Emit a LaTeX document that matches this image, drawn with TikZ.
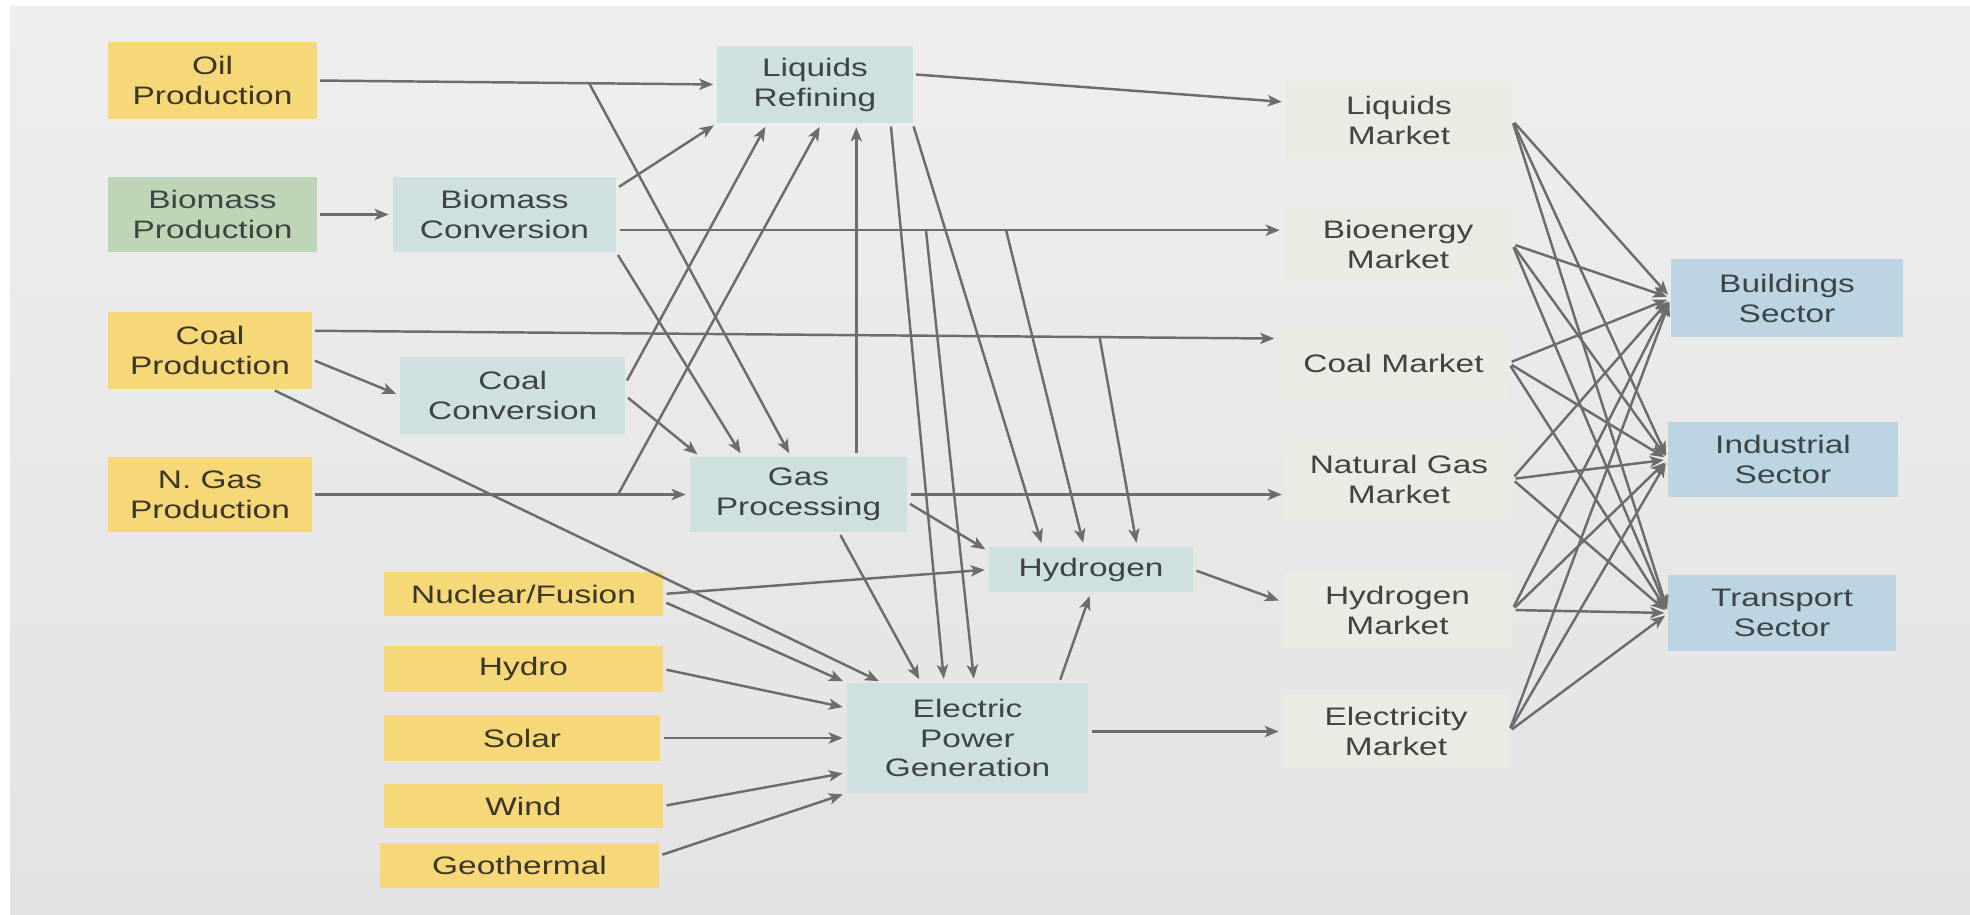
\documentclass[tikz,border=0pt]{standalone}
\usepackage{fontspec}
\setmainfont{Liberation Sans}[FakeStretch=1.32]
\usetikzlibrary{arrows.meta,calc}

\definecolor{srcyellow}{HTML}{F6D878}
\definecolor{biogreen}{HTML}{BED6B6}
\definecolor{procteal}{HTML}{CFE0E0}
\definecolor{mktbeige}{HTML}{EBEBE3}
\definecolor{sectblue}{HTML}{BCD5E2}
\definecolor{srctext}{HTML}{3A3628}
\definecolor{boxtext}{HTML}{3E4444}
\definecolor{flowgray}{HTML}{6C6C6C}
\definecolor{bgtop}{HTML}{EEEEEE}
\definecolor{bgbot}{HTML}{E3E3E3}

\begin{document}
\begin{tikzpicture}[x=0.01cm,y=-0.01cm,
  box/.style={rectangle,inner sep=0pt,outer sep=0pt,align=center,
    font=\fontsize{7.2}{8.5}\selectfont},
  srcbox/.style={box,fill=srcyellow,text=srctext},
  bioprod/.style={box,fill=biogreen,text=boxtext},
  procbox/.style={box,fill=procteal,text=boxtext},
  mktbox/.style={box,fill=mktbeige,text=boxtext},
  sectbox/.style={box,fill=sectblue,text=boxtext},
  flow/.style={draw=flowgray,line width=0.7pt,
    -{Stealth[length=4pt,width=3.2pt,inset=1pt]},shorten >=1.2pt,shorten <=1pt},
  tap/.style={flow,shorten <=0pt}]

% page and background
\fill[white] (0,0) rectangle (1970,914);
\useasboundingbox (0,0) rectangle (1970,914);
\shade[top color=bgtop,bottom color=bgbot] (10,6) rectangle (1970,914);

% primary sources
\node[srcbox,minimum width=2.08cm,minimum height=0.77cm] (oil) at (212.5,80.5) {Oil\\Production};
\node[bioprod,minimum width=2.08cm,minimum height=0.75cm] (biop) at (212.5,214.5) {Biomass\\Production};
\node[srcbox,minimum width=2.03cm,minimum height=0.77cm] (coalp) at (210,350.5) {Coal\\Production};
\node[srcbox,minimum width=2.03cm,minimum height=0.75cm] (ngasp) at (210,494.5) {N. Gas\\Production};
\node[srcbox,minimum width=2.79cm,minimum height=0.44cm] (nuc) at (523.5,594) {Nuclear/Fusion};
\node[srcbox,minimum width=2.79cm,minimum height=0.46cm] (hydro) at (523.5,669) {Hydro};
\node[srcbox,minimum width=2.76cm,minimum height=0.46cm] (solar) at (522,738) {Solar};
\node[srcbox,minimum width=2.79cm,minimum height=0.44cm] (wind) at (523.5,806) {Wind};
\node[srcbox,minimum width=2.79cm,minimum height=0.45cm] (geo) at (519.5,865.5) {Geothermal};

% conversion steps
\node[procbox,minimum width=2.23cm,minimum height=0.75cm] (bioconv) at (504.5,214.5) {Biomass\\Conversion};
\node[procbox,minimum width=2.25cm,minimum height=0.77cm] (coalconv) at (512.7,395.5) {Coal\\Conversion};
\node[procbox,minimum width=1.95cm,minimum height=0.77cm] (refin) at (815,84.5) {Liquids\\Refining};
\node[procbox,minimum width=2.17cm,minimum height=0.75cm] (gasp) at (798.5,494.5) {Gas\\Processing};
\node[procbox,minimum width=2.04cm,minimum height=0.45cm] (hydrog) at (1091,569.5) {Hydrogen};
\node[procbox,minimum width=2.41cm,minimum height=1.10cm] (epg) at (967.5,738) {Electric\\Power\\Generation};

% markets
\node[mktbox,minimum width=2.26cm,minimum height=0.76cm] (liqmkt) at (1399,120) {Liquids\\Market};
\node[mktbox,minimum width=2.28cm,minimum height=0.78cm] (biomkt) at (1398,244) {Bioenergy\\Market};
\node[mktbox,minimum width=2.30cm,minimum height=0.74cm] (coalmkt) at (1393.5,363) {Coal Market};
\node[mktbox,minimum width=2.26cm,minimum height=0.78cm] (ngmkt) at (1399,479) {Natural Gas\\Market};
\node[mktbox,minimum width=2.29cm,minimum height=0.76cm] (h2mkt) at (1397.5,610) {Hydrogen\\Market};
\node[mktbox,minimum width=2.26cm,minimum height=0.73cm] (elmkt) at (1396,731.5) {Electricity\\Market};

% end-use sectors
\node[sectbox,minimum width=2.32cm,minimum height=0.78cm] (build) at (1787,298) {Buildings\\Sector};
\node[sectbox,minimum width=2.30cm,minimum height=0.75cm] (indus) at (1783,459.5) {Industrial\\Sector};
\node[sectbox,minimum width=2.27cm,minimum height=0.76cm] (trans) at (1782,613) {Transport\\Sector};

% tap points on the long lines
\coordinate (bioend) at (biomkt.west |- bioconv.-8);
\coordinate (oiltap) at ($(oil.east)!0.68!(refin.west)$);
\coordinate (biotapa) at ($(bioconv.-8)!0.464!(bioend)$);
\coordinate (biotapb) at ($(bioconv.-8)!0.584!(bioend)$);
\coordinate (coaltap) at ($(coalp.11)!0.815!(coalmkt.168)$);
\coordinate (ngtap) at ($(ngasp.east)!0.81!(gasp.west)$);

% oil and biomass
\draw[flow] (oil.east) -- (refin.west);
\draw[tap] (oiltap) -- (gasp.101);
\draw[flow] (biop.east) -- (bioconv.west);
\draw[flow] (bioconv.13) -- (refin.south west);
\draw[flow] (bioconv.-8) -- (bioend);
\draw[flow] (bioconv.south east) -- (gasp.146);
\draw[tap] (biotapa) -- (epg.83);
\draw[tap] (biotapb) -- (hydrog.107);

% coal and gas
\draw[flow] (coalp.-5) -- (coalconv.west);
\draw[flow] (coalp.11) -- (coalmkt.168);
\draw[flow] (coalp.-32) -- (epg.147);
\draw[tap] (coaltap) -- (hydrog.26);
\draw[flow] (coalconv.6) -- (refin.-141);
\draw[flow] (coalconv.east) -- (gasp.159);
\draw[flow] (ngasp.east) -- (gasp.west);
\draw[tap] (ngtap) -- (refin.-80);
\draw[flow] (gasp.33) -- (gasp.33 |- refin.south);
\draw[flow] (gasp.east) -- (ngmkt.west |- gasp.east);
\draw[flow] (gasp.-4) -- (hydrog.170);
\draw[flow] (gasp.-43) -- (epg.130);

% refining
\draw[flow] (refin.6) -- (liqmkt.171);
\draw[flow] (refin.-27) -- (epg.113);
\draw[flow] (refin.south east) -- (hydrog.155);

% power and hydrogen
\draw[flow] (nuc.east) -- (hydrog.west);
\draw[flow] (nuc.-3) -- (epg.north west);
\draw[flow] (hydro.east) -- (epg.166);
\draw[flow] (solar.east) -- (epg.west |- solar.east);
\draw[flow] (wind.east) -- (epg.196);
\draw[flow] (geo.4) -- (epg.south west);
\draw[flow] (epg.east |- elmkt.west) -- (elmkt.west);
\draw[flow] (epg.31) -- (hydrog.south);
\draw[flow] (hydrog.east) -- (h2mkt.176);

% markets to sectors
\foreach \m in {liqmkt,biomkt,coalmkt,ngmkt,h2mkt,elmkt}
  \foreach \s in {build,indus,trans}
    \draw[flow] (\m.east) -- (\s.west);

\end{tikzpicture}
\end{document}
